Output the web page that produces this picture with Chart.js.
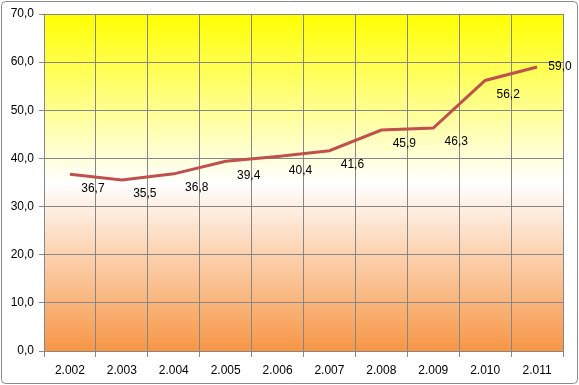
<!DOCTYPE html>
<html>
<head>
<meta charset="utf-8">
<script src="https://cdn.jsdelivr.net/npm/chart.js@4"></script>
<style>
  html, body { margin: 0; padding: 0; background: #fff; }
  #wrap { width: 579px; height: 385px; }
</style>
</head>
<body>
<div id="wrap"><canvas id="grafico"></canvas></div>
<script>
// valori
var anni = ['2.002', '2.003', '2.004', '2.005', '2.006', '2.007', '2.008', '2.009', '2.010', '2.011'];
var valori = [36.7, 35.5, 36.8, 39.4, 40.4, 41.6, 45.9, 46.3, 56.2, 59.0];
var yMin = 0, yMax = 70, yStep = 10;

function fmt(v) {
  return v.toFixed(1).replace('.', ',');
}

// bordo esterno arrotondato
var cornice = {
  id: 'cornice',
  beforeDraw: function(chart) {
    var c = chart.ctx;
    c.save();
    c.fillStyle = '#fff';
    c.fillRect(0, 0, chart.width, chart.height);
    c.strokeStyle = '#8a8a8a';
    c.lineWidth = 1;
    c.beginPath();
    c.roundRect(1.5, 1.5, chart.width - 3, chart.height - 3, 4);
    c.stroke();
    // sfondo sfumato dell'area del grafico
    var a = chart.chartArea;
    var g = c.createLinearGradient(0, a.top, 0, a.bottom);
    g.addColorStop(0, '#ffff00');
    g.addColorStop(0.5, '#ffffff');
    g.addColorStop(1, '#f79646');
    c.fillStyle = g;
    c.fillRect(a.left, a.top, a.right - a.left, a.bottom - a.top);
    c.restore();
  }
};

// etichette dei valori
var etichette = {
  id: 'etichette',
  afterDatasetsDraw: function(chart) {
    var c = chart.ctx;
    var meta = chart.getDatasetMeta(0);
    c.save();
    c.font = '12px "Liberation Sans", Arial, sans-serif';
    c.fillStyle = '#000';
    c.textAlign = 'center';
    c.textBaseline = 'middle';
    meta.data.forEach(function(p, i) {
      var dy = (i === meta.data.length - 1) ? 0 : 14;
      c.fillText(fmt(valori[i]), p.x + 23, p.y + dy);
    });
    c.restore();
  }
};

var ctx = document.getElementById('grafico');
new Chart(ctx, {
  type: 'line',
  data: {
    labels: anni,
    datasets: [{
      data: valori,
      borderColor: '#c0504d',
      borderWidth: 3,
      pointRadius: 0,
      tension: 0,
      fill: false
    }]
  },
  options: {
    responsive: true,
    maintainAspectRatio: false,
    animation: false,
    layout: { padding: { top: 14, right: 16, left: 0, bottom: 0 } },
    plugins: { legend: { display: false }, tooltip: { enabled: false } },
    scales: {
      x: {
        offset: true,
        grid: { offset: true, color: '#868686', tickLength: 6, drawTicks: true },
        border: { color: '#868686' },
        ticks: { color: '#000', font: { family: '"Liberation Sans", Arial, sans-serif', size: 12 }, padding: 6, maxRotation: 0 },
        afterFit: function(s) { s.height = 385 - 351; }
      },
      y: {
        min: yMin, max: yMax,
        grid: { color: '#868686', tickLength: 5 },
        border: { color: '#868686' },
        ticks: { stepSize: yStep, color: '#000', font: { family: '"Liberation Sans", Arial, sans-serif', size: 12 }, padding: 5,
          callback: function(v) { return fmt(v); } },
        afterFit: function(s) { s.width = 44; }
      }
    }
  },
  plugins: [cornice, etichette]
});
</script>
</body>
</html>
